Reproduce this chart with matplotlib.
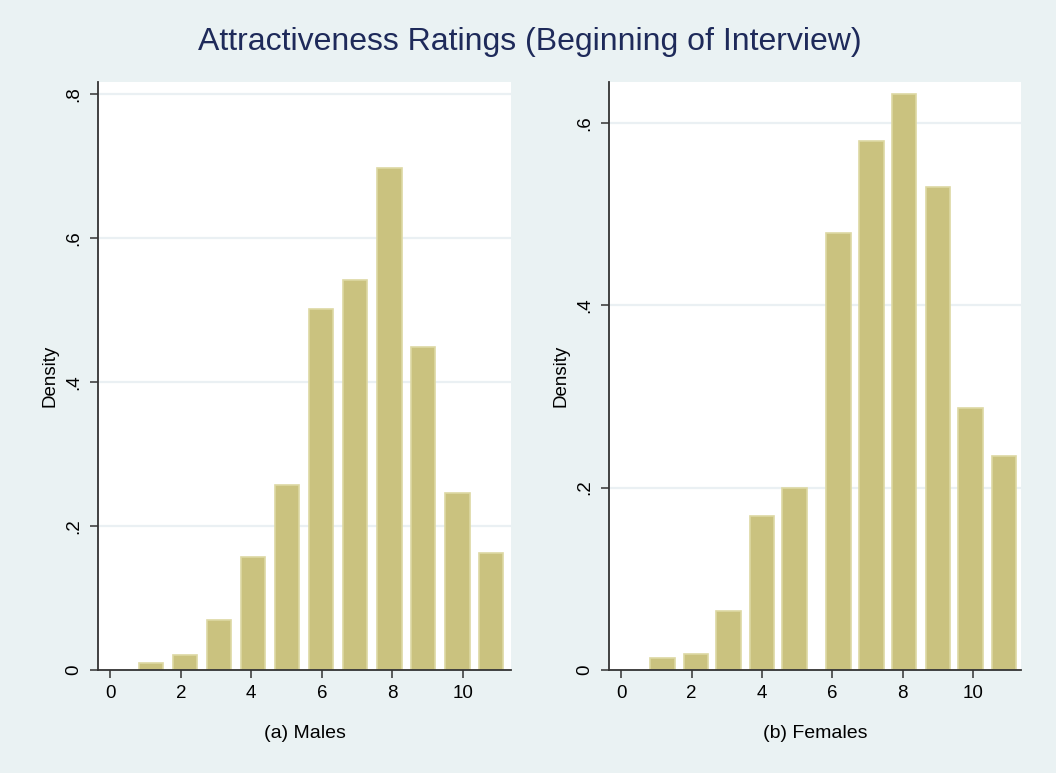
import numpy as np
import matplotlib
matplotlib.use('Agg')
import matplotlib.pyplot as plt

plt.rcParams['font.family'] = ['Liberation Sans', 'DejaVu Sans']

# bar centres and heights
male_x = [1.15, 2.12, 3.09, 4.05, 5.02, 5.98, 6.95, 7.92, 8.88, 9.85, 10.81]
male_d = [0.0097, 0.0208, 0.069, 0.1565, 0.2574, 0.502, 0.5417, 0.697, 0.449, 0.2454, 0.1625]
female_x = [1.17, 2.12, 3.05, 4.00, 4.93, 6.18, 7.12, 8.05, 9.00, 9.93, 10.88]
female_d = [0.0128, 0.0175, 0.0643, 0.1685, 0.199, 0.4787, 0.5796, 0.631, 0.530, 0.2876, 0.2343]

x_ticks = [0, 2, 4, 6, 8, 10]
male_yticks = [0, 0.2, 0.4, 0.6, 0.8]
female_yticks = [0, 0.2, 0.4, 0.6]

def fmt(v):
    return '0' if v == 0 else ('%.1f' % v).lstrip('0')

BG = '#EAF2F3'
BAR = '#CAC27F'
EDGE = '#DDD8A3'
GRID = '#EAF0F3'

fig = plt.figure(figsize=(10.56, 7.73), dpi=100, facecolor=BG)

panels = [
    ([98, 511], male_x, male_d, male_yticks, 0.8167, '(a) Males'),
    ([609, 1021], female_x, female_d, female_yticks, 0.6446, '(b) Females'),
]

for (px, xs, ds, yt, ytop, lab) in panels:
    ax = fig.add_axes([px[0] / 1056, 1 - 670 / 773, (px[1] - px[0]) / 1056, 588 / 773])
    ax.set_facecolor('white')
    ax.bar(xs, ds, width=0.69, color=BAR, edgecolor=EDGE, linewidth=1.2, zorder=2)
    ax.set_xlim(-0.35, 11.37)
    ax.set_ylim(0, ytop)
    ax.set_xticks(x_ticks)
    ax.set_yticks(yt)
    ax.set_yticklabels([fmt(v) for v in yt], rotation=90, va='center')
    for v in yt[1:]:
        ax.axhline(v, color=GRID, lw=1.6, zorder=1)
    for s in ['top', 'right']:
        ax.spines[s].set_visible(False)
    for s in ['left', 'bottom']:
        ax.spines[s].set_color('#333333')
        ax.spines[s].set_linewidth(1.3)
    ax.tick_params(axis='both', length=6, width=1.1, color='#333333',
                   labelsize=13.5, labelcolor='black', pad=5)
    ax.set_ylabel('Density', fontsize=13.5, labelpad=5)
    ax.set_xlabel(lab, fontsize=14, labelpad=16)

fig.text(529.5 / 1056, 1 - 42 / 773, 'Attractiveness Ratings (Beginning of Interview)',
         ha='center', va='center', fontsize=23, color='#1E2A5A')

fig.savefig('out.png', dpi=100, facecolor=BG)
